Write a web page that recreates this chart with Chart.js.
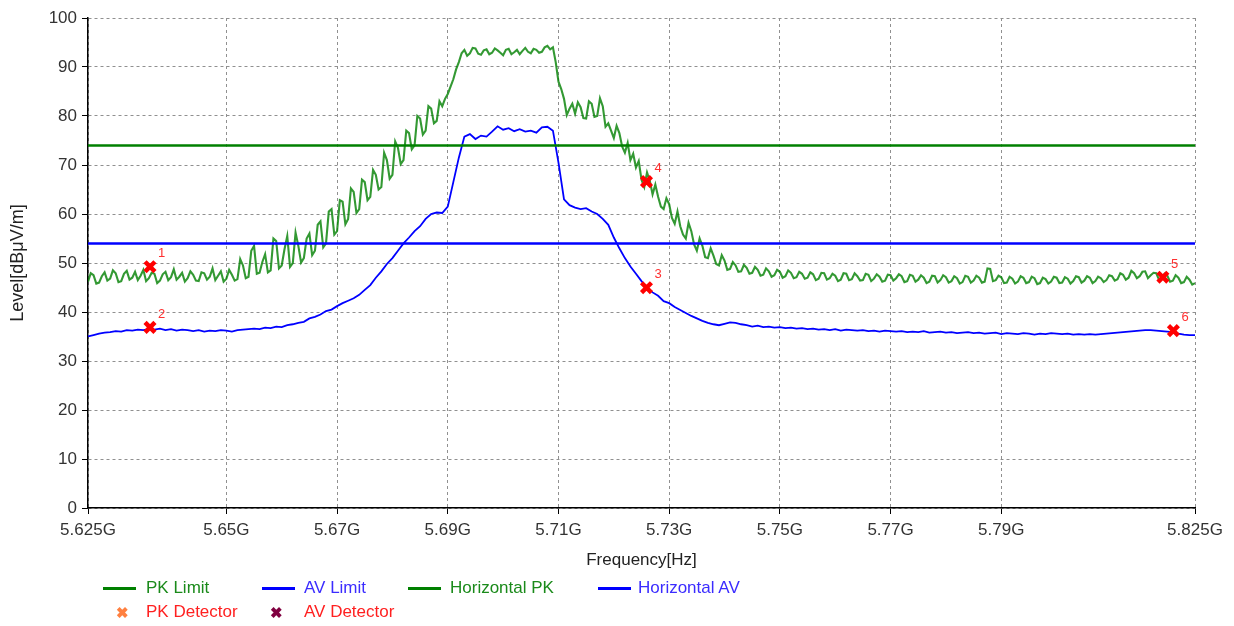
<!DOCTYPE html>
<html>
<head>
<meta charset="utf-8">
<script src="https://cdn.jsdelivr.net/npm/chart.js@4.4.1/dist/chart.umd.min.js"></script>
<style>
  body { margin: 0; background: #fff; }
  #wrap { position: relative; width: 1234px; height: 626px; font-family: "Liberation Sans", Arial, sans-serif; }
  .lg { position: absolute; font-size: 17px; line-height: 20px; white-space: nowrap; }
  .ln { position: absolute; height: 3px; width: 33px; }
  .mk { position: absolute; font-size: 15px; font-weight: bold; line-height: 16px; }
</style>
</head>
<body>
<div id="wrap">
  <canvas id="myCanvas" width="1234" height="626"></canvas>
  <div class="ln" style="left:103px;top:587px;background:#008000"></div>
  <div class="lg" style="left:146px;top:578px;color:#1a8a1a">PK Limit</div>
  <div class="ln" style="left:262px;top:587px;background:#0000ff"></div>
  <div class="lg" style="left:304px;top:578px;color:#3b2cff">AV Limit</div>
  <div class="ln" style="left:408px;top:587px;background:#008000"></div>
  <div class="lg" style="left:450px;top:578px;color:#1a8a1a">Horizontal PK</div>
  <div class="ln" style="left:598px;top:587px;background:#0000ff"></div>
  <div class="lg" style="left:638px;top:578px;color:#3b2cff">Horizontal AV</div>
  <div class="mk" style="left:116px;top:605px;color:#ff8040">&#10006;</div>
  <div class="lg" style="left:146px;top:602px;color:#ff2020">PK Detector</div>
  <div class="mk" style="left:270px;top:605px;color:#800040">&#10006;</div>
  <div class="lg" style="left:304px;top:602px;color:#ff2020">AV Detector</div>
</div>
<script>
"use strict";
// sweep starts at 5.625 GHz; PK trace 0.5 MHz steps (401 pts), AV trace 1 MHz steps (201 pts)
var fStart = 5.625;
var pkStep = 0.0005;
var avStep = 0.001;

var horizontalPK = [
  46.2, 47.9, 47.5, 45.8, 46.0, 47.3, 48.1, 46.4, 46.8, 48.5, 47.9, 46.1, 46.3, 47.8, 48.4, 46.6, 47.0, 48.2, 46.5, 47.4,
  48.6, 46.3, 46.9, 48.0, 47.8, 45.9, 46.4, 47.7, 48.2, 46.5, 47.1, 48.7, 46.6, 47.2, 48.0, 46.2, 46.9, 48.3, 47.6, 46.4,
  46.3, 48.1, 47.9, 46.6, 47.2, 48.9, 46.5, 47.4, 48.3, 46.2, 46.8, 48.6, 47.6, 46.4, 46.7, 50.8, 49.5, 46.9, 47.2, 52.5,
  53.5, 47.8, 48.0, 50.2, 51.8, 48.1, 48.5, 55.0, 54.5, 48.9, 49.5, 52.8, 55.5, 49.2, 50.0, 56.2, 53.5, 50.1, 51.0, 55.0,
  56.0, 51.6, 52.5, 57.8, 58.5, 53.2, 54.0, 60.5, 61.0, 55.8, 56.5, 62.8, 62.5, 57.9, 59.0, 65.2, 64.5, 60.2, 61.0, 67.0,
  66.5, 62.8, 63.5, 69.0, 68.0, 65.0, 65.5, 72.5, 71.0, 67.2, 68.0, 74.8, 73.5, 70.2, 71.0, 77.0, 76.5, 73.2, 74.0, 80.0,
  79.5, 76.2, 77.0, 82.0, 81.5, 78.5, 79.0, 83.0, 82.0, 83.5, 84.5, 86.0, 87.5, 89.5, 91.0, 92.8, 93.5, 92.3, 92.8, 93.9,
  93.8, 92.7, 92.5, 93.4, 93.6, 92.6, 92.9, 93.8, 93.4, 92.9, 92.4, 93.5, 93.7, 92.6, 93.0, 93.5, 92.6, 93.3, 93.9, 93.1,
  92.8, 93.7, 93.5, 92.9, 93.1, 94.0, 94.3, 93.6, 94.0, 91.0, 87.0, 85.5, 83.5, 80.2, 81.5, 82.5, 80.5, 82.8, 81.8, 79.6,
  79.5, 83.0, 82.5, 79.8, 80.0, 83.6, 82.0, 77.8, 78.5, 77.0, 75.5, 78.0, 76.5, 73.8, 72.5, 74.5, 71.0, 72.3, 69.5, 70.8,
  67.0, 65.5, 68.5, 66.8, 64.0, 66.0, 63.5, 61.5, 61.0, 63.2, 62.0, 59.2, 58.0, 60.5, 57.5, 55.8, 55.0, 58.2, 56.5, 53.8,
  52.5, 55.0, 53.5, 51.2, 51.0, 53.0, 51.5, 49.8, 49.5, 51.6, 50.5, 48.6, 48.8, 50.2, 49.5, 48.2, 48.3, 49.6, 49.0, 47.8,
  48.0, 49.2, 48.6, 47.4, 47.6, 48.9, 48.3, 47.2, 47.5, 48.6, 48.2, 47.0, 47.3, 48.5, 48.0, 46.9, 47.1, 48.2, 47.8, 46.8,
  47.0, 48.1, 47.7, 46.5, 46.8, 48.0, 47.9, 46.6, 46.9, 47.8, 47.4, 46.3, 46.6, 47.9, 47.8, 46.5, 46.7, 47.9, 47.3, 46.4,
  46.5, 47.8, 47.6, 46.3, 46.8, 47.7, 47.2, 46.2, 46.4, 47.6, 47.5, 46.4, 46.9, 47.7, 47.3, 46.1, 46.3, 47.6, 47.4, 46.2,
  46.6, 47.5, 47.0, 45.9, 46.2, 47.4, 47.3, 46.0, 46.5, 47.5, 47.1, 46.0, 46.3, 47.3, 46.9, 45.8, 46.1, 47.4, 47.2, 46.0,
  46.4, 47.4, 47.0, 46.0, 46.2, 48.9, 48.8, 46.3, 46.5, 47.4, 47.1, 45.9, 46.0, 47.2, 46.8, 45.8, 46.2, 47.3, 47.0, 45.9,
  46.1, 47.2, 46.9, 45.7, 45.9, 47.0, 46.7, 45.8, 46.2, 47.2, 47.0, 45.9, 46.0, 47.1, 46.8, 45.8, 46.3, 47.3, 47.1, 46.0,
  46.4, 47.3, 47.0, 45.9, 46.3, 47.2, 46.9, 46.1, 46.5, 47.5, 47.3, 46.4, 46.7, 47.9, 47.6, 46.6, 47.0, 48.4, 47.9, 46.9,
  47.3, 48.2, 48.3, 46.9, 47.5, 48.0, 47.9, 46.6, 46.8, 47.8, 47.4, 46.2, 46.4, 47.5, 47.0, 45.9, 46.1, 47.2, 46.6, 45.6,
  45.9
];

var horizontalAV = [
  35.0, 35.3, 35.6, 35.8, 35.9, 36.1, 36.0, 36.3, 36.2, 36.4,
  36.3, 36.5, 36.4, 36.6, 36.3, 36.5, 36.2, 36.4, 36.3, 36.1,
  36.3, 36.0, 36.2, 36.1, 36.3, 36.2, 36.0, 36.3, 36.4, 36.5,
  36.6, 36.5, 36.8, 36.7, 37.0, 36.9, 37.3, 37.5, 37.8, 38.0,
  38.7, 39.0, 39.5, 40.2, 40.5, 41.2, 41.8, 42.3, 42.8, 43.5,
  44.5, 45.5, 47.0, 48.3, 49.8, 51.0, 52.5, 54.0, 55.2, 56.5,
  57.5, 59.0, 60.0, 60.3, 60.2, 61.5, 66.5, 71.5, 75.8, 76.3,
  75.3, 76.0, 75.8, 76.8, 77.9, 77.2, 77.5, 76.9, 77.3, 76.8,
  77.0, 76.6, 77.7, 77.8, 77.0, 70.5, 63.0, 61.8, 61.3, 61.0,
  61.2, 60.5, 60.0, 59.0, 57.8, 55.2, 53.0, 51.0, 49.3, 47.8,
  46.3, 45.0, 44.0, 43.3, 42.2, 41.8, 41.0, 40.4, 39.8, 39.2,
  38.7, 38.2, 37.8, 37.5, 37.3, 37.6, 37.9, 37.8, 37.5, 37.3,
  37.0, 37.2, 36.9, 37.0, 36.8, 36.9, 36.7, 36.8, 36.6, 36.7,
  36.5, 36.6, 36.4, 36.5, 36.3, 36.5, 36.2, 36.4, 36.3, 36.2,
  36.3, 36.1, 36.2, 36.0, 36.2, 36.1, 36.0, 36.1, 35.9, 36.0,
  35.9, 36.1, 35.8, 35.9, 36.0, 35.8, 35.9, 35.7, 35.8, 35.9,
  35.7, 35.8, 35.6, 35.7, 35.8, 35.5, 35.7, 35.6, 35.5, 35.7,
  35.6, 35.4, 35.6, 35.5, 35.7, 35.6, 35.5, 35.6, 35.4, 35.5,
  35.4, 35.5, 35.4, 35.5, 35.6, 35.7, 35.8, 35.9, 36.0, 36.1,
  36.2, 36.3, 36.3, 36.2, 36.1, 36.0, 35.9, 35.6, 35.4, 35.3,
  35.3
];

var pkLimit = 74;
var avLimit = 54;

// markers (numbered 1..6 as on the plot)
var pkMarkFreq = [5.6362, 5.7259, 5.8192];
var pkMarkLevel = [49.25, 66.6, 47.1];
var pkMarkNum = ["1", "4", "5"];
var avMarkFreq = [5.6362, 5.7259, 5.8211];
var avMarkLevel = [36.86, 44.96, 36.2];
var avMarkNum = ["2", "3", "6"];

var xTicks = [5.625, 5.65, 5.67, 5.69, 5.71, 5.73, 5.75, 5.77, 5.79, 5.825];
var xTickLabels = ["5.625G", "5.65G", "5.67G", "5.69G", "5.71G", "5.73G", "5.75G", "5.77G", "5.79G", "5.825G"];

function toPoints(vals, step) {
    var pts = [];
    for (var i = 0; i < vals.length; i++) {
        pts.push({x: fStart + i * step, y: vals[i]});
    }
    return pts;
}
function markPoints(fr, lv) {
    var pts = [];
    for (var i = 0; i < fr.length; i++) pts.push({x: fr[i], y: lv[i]});
    return pts;
}

var markerNumbers = {
    id: 'markerNumbers',
    afterDatasetsDraw: function (chart) {
        var ctx = chart.ctx;
        ctx.save();
        ctx.fillStyle = '#ff3030';
        ctx.font = '13px "Liberation Sans", Arial, sans-serif';
        ctx.textBaseline = 'middle';
        [[0, pkMarkNum], [1, avMarkNum]].forEach(function (p) {
            var meta = chart.getDatasetMeta(p[0]);
            meta.data.forEach(function (pt, j) {
                ctx.fillText(p[1][j], pt.x + 8, pt.y - 13);
            });
        });
        ctx.restore();
    }
};

var font = {family: '"Liberation Sans", Arial, sans-serif', size: 17};

var ctx = document.getElementById('myCanvas');
var chart = new Chart(ctx, {
    type: 'line',
    data: {
        datasets: [
            {
                label: 'PK Detector', data: markPoints(pkMarkFreq, pkMarkLevel), showLine: false,
                pointStyle: 'crossRot', pointRadius: 7, pointBorderWidth: 4.5,
                borderColor: '#ff0000', backgroundColor: '#ff0000', order: 0
            },
            {
                label: 'AV Detector', data: markPoints(avMarkFreq, avMarkLevel), showLine: false,
                pointStyle: 'crossRot', pointRadius: 7, pointBorderWidth: 4.5,
                borderColor: '#ff0000', backgroundColor: '#ff0000', order: 0
            },
            {
                label: 'PK Limit', data: [{x: xTicks[0], y: pkLimit}, {x: xTicks[xTicks.length - 1], y: pkLimit}],
                borderColor: '#008000', borderWidth: 2.5, pointRadius: 0, order: 1
            },
            {
                label: 'AV Limit', data: [{x: xTicks[0], y: avLimit}, {x: xTicks[xTicks.length - 1], y: avLimit}],
                borderColor: '#0000ff', borderWidth: 2.5, pointRadius: 0, order: 1
            },
            {
                label: 'Horizontal PK', data: toPoints(horizontalPK, pkStep),
                borderColor: 'rgba(0,128,0,0.8)', borderWidth: 2.1, pointRadius: 0, order: 2
            },
            {
                label: 'Horizontal AV', data: toPoints(horizontalAV, avStep),
                borderColor: '#0000ff', borderWidth: 1.8, pointRadius: 0, order: 2
            }
        ]
    },
    options: {
        responsive: false,
        animation: false,
        layout: {padding: {left: 0, right: 39, top: 18, bottom: 55}},
        plugins: {legend: {display: false}, tooltip: {enabled: false}},
        scales: {
            x: {
                type: 'linear', min: 5.625, max: 5.825,
                afterBuildTicks: function (s) { s.ticks = xTicks.map(function (v) { return {value: v}; }); },
                afterFit: function (s) { s.height = 63; },
                ticks: {
                    color: '#333', font: font, padding: 6, maxRotation: 0, autoSkip: false,
                    callback: function (v) { return xTickLabels[xTicks.indexOf(v)]; }
                },
                grid: {color: '#909090', tickColor: '#000', tickLength: 6, lineWidth: 1},
                border: {color: '#000', width: 1.5, dash: [3, 3]},
                title: {display: true, text: 'Frequency[Hz]', color: '#222', font: font, padding: 0}
            },
            y: {
                min: 0, max: 100,
                afterFit: function (s) { s.width = 88; },
                ticks: {stepSize: 10, color: '#333', font: font, padding: 5},
                grid: {color: '#909090', tickColor: '#000', tickLength: 6, lineWidth: 1},
                border: {color: '#000', width: 1.5, dash: [3, 3]},
                title: {display: true, text: 'Level[dBμV/m]', color: '#222', font: {family: font.family, size: 18}, padding: {top: 7, bottom: 0}}
            }
        }
    },
    plugins: [markerNumbers]
});
</script>
</body>
</html>
